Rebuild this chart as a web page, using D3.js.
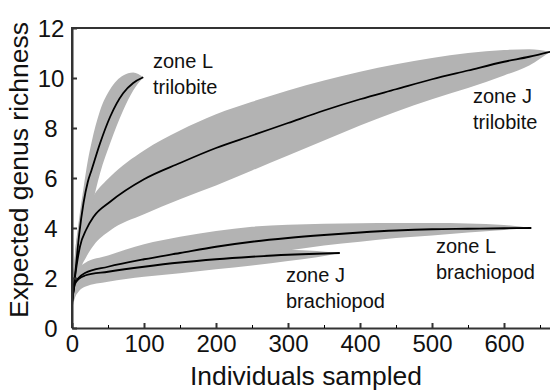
<!DOCTYPE html>
<html>
<head>
<meta charset="utf-8">
<script src="https://cdn.jsdelivr.net/npm/d3@7"></script>
<style>
  body { margin: 0; background: #fff; }
  svg text { font-family: "Liberation Sans", Arial, sans-serif; fill: #111; }
</style>
</head>
<body>
<div id="chart"></div>
<script>
// rarefaction curves: x = individuals sampled, mean + band edges
const lTriloX     = [0, 4, 10, 16, 22, 27, 39, 53, 71, 85, 99];
const lTriloMean  = [1.0, 2.05, 3.75, 5.0, 5.85, 6.3, 7.39, 8.45, 9.39, 9.8, 10.03];
const lTriloUpper = [1.2, 2.9, 4.4, 5.6, 6.7, 7.4, 8.7, 9.55, 10.1, 10.22, 10.03];
const lTriloLower = [0.8, 1.4, 2.6, 3.4, 4.2, 4.8, 6.19, 7.39, 8.7, 9.5, 10.03];

const jTriloX     = [0, 4, 11, 20, 30, 53, 100, 150, 200, 250, 300, 350, 400, 450, 500, 550, 600, 635, 664];
const jTriloMean  = [1.0, 2.0, 3.25, 3.95, 4.45, 5.05, 5.95, 6.6, 7.2, 7.7, 8.2, 8.7, 9.15, 9.55, 9.95, 10.3, 10.65, 10.85, 11.05];
const jTriloUpper = [1.2, 2.9, 4.1, 4.8, 5.3, 6.05, 7.1, 7.9, 8.55, 9.05, 9.5, 9.9, 10.25, 10.55, 10.8, 11.0, 11.12, 11.15, 11.05];
const jTriloLower = [0.8, 1.5, 2.3, 2.85, 3.3, 3.9, 4.55, 5.15, 5.7, 6.3, 6.9, 7.5, 8.1, 8.65, 9.15, 9.6, 10.1, 10.5, 11.05];

const lBrachX     = [0, 4, 9, 18, 50, 100, 150, 200, 250, 300, 350, 400, 450, 500, 550, 600, 638];
const lBrachMean  = [1.0, 1.8, 2.0, 2.2, 2.45, 2.75, 3.0, 3.25, 3.45, 3.6, 3.72, 3.82, 3.9, 3.95, 3.97, 3.99, 4.0];
const lBrachUpper = [1.2, 2.2, 2.4, 2.6, 2.9, 3.35, 3.65, 3.88, 4.05, 4.13, 4.17, 4.19, 4.2, 4.2, 4.18, 4.12, 4.0];
const lBrachLower = [0.7, 1.3, 1.55, 1.75, 2.0, 2.2, 2.4, 2.65, 2.9, 3.1, 3.3, 3.45, 3.6, 3.7, 3.82, 3.92, 4.0];

const jBrachX     = [0, 4, 9, 18, 50, 100, 150, 200, 250, 300, 340, 372];
const jBrachMean  = [1.0, 1.75, 1.95, 2.1, 2.25, 2.45, 2.62, 2.75, 2.85, 2.93, 2.97, 3.0];
const jBrachUpper = [1.2, 2.1, 2.3, 2.45, 2.6, 2.85, 3.0, 3.1, 3.15, 3.13, 3.08, 3.0];
const jBrachLower = [0.7, 1.2, 1.45, 1.65, 1.85, 2.05, 2.19, 2.35, 2.5, 2.68, 2.83, 3.0];

const xTicks = [0, 100, 200, 300, 400, 500, 600];
const xMinor = [50, 150, 250, 350, 450, 550, 650];
const yTicks = [0, 2, 4, 6, 8, 10, 12];

const series = [
  {x: jTriloX, mean: jTriloMean, upper: jTriloUpper, lower: jTriloLower, label: ['zone J', 'trilobite'], at: [473, 103]},
  {x: lTriloX, mean: lTriloMean, upper: lTriloUpper, lower: lTriloLower, label: ['zone L', 'trilobite'], at: [153, 68]},
  {x: lBrachX, mean: lBrachMean, upper: lBrachUpper, lower: lBrachLower, label: ['zone L', 'brachiopod'], at: [436, 253]},
  {x: jBrachX, mean: jBrachMean, upper: jBrachUpper, lower: jBrachLower, label: ['zone J', 'brachiopod'], at: [286, 282]}
];

const W = 550, H = 391;
const margin = {top: 28, left: 72, bottom: 63};

const svg = d3.select('#chart').append('svg')
  .attr('width', W).attr('height', H);

const x = d3.scaleLinear().domain([0, 670]).range([margin.left, margin.left + 670 * 0.72]);
const y = d3.scaleLinear().domain([0, 12]).range([H - margin.bottom, margin.top]);

const area = d3.area()
  .x(d => x(d[0])).y0(d => y(d[2])).y1(d => y(d[1]))
  .curve(d3.curveMonotoneX);
const line = d3.line()
  .x(d => x(d[0])).y(d => y(d[1]))
  .curve(d3.curveMonotoneX);

// bands first so every line sits on top
series.forEach(s => {
  svg.append('path')
    .datum(s.x.map((v, i) => [v, s.upper[i], s.lower[i]]))
    .attr('d', area)
    .attr('fill', '#b3b3b3');
});
series.forEach(s => {
  svg.append('path')
    .datum(s.x.map((v, i) => [v, s.mean[i]]))
    .attr('d', line)
    .attr('fill', 'none')
    .attr('stroke', '#000')
    .attr('stroke-width', 1.8);
});

// frame (top line + axes)
svg.append('path')
  .attr('d', `M${x(0)},${y(0)}V${y(12)}H${x(670)}`)
  .attr('fill', 'none').attr('stroke', '#333').attr('stroke-width', 2);

const xAxis = svg.append('g')
  .attr('transform', `translate(0,${y(0)})`)
  .call(d3.axisBottom(x).tickValues(xTicks).tickSizeInner(-5).tickSizeOuter(0).tickPadding(7));
svg.append('g')
  .attr('transform', `translate(0,${y(0)})`)
  .call(d3.axisBottom(x).tickValues(xMinor).tickSizeInner(-3).tickSizeOuter(0).tickFormat(''))
  .select('.domain').remove();

const yAxis = svg.append('g')
  .attr('transform', `translate(${x(0)},0)`)
  .call(d3.axisLeft(y).tickValues(yTicks).tickSizeInner(-5).tickSizeOuter(0));

[xAxis, yAxis].forEach(g => {
  g.select('.domain').attr('stroke', '#333').attr('stroke-width', 2);
  g.selectAll('.tick line').attr('stroke', '#333').attr('stroke-width', 2);
  g.selectAll('.tick text').attr('font-size', 24).attr('fill', '#111')
    .style('font-family', '"Liberation Sans", Arial, sans-serif');
});
yAxis.selectAll('.tick text')
  .attr('text-anchor', 'middle').attr('x', -21).attr('dy', '0.36em');

// axis titles
svg.append('text')
  .attr('x', 306).attr('y', 385)
  .attr('text-anchor', 'middle')
  .attr('font-size', 25)
  .attr('textLength', 232).attr('lengthAdjust', 'spacingAndGlyphs')
  .text('Individuals sampled');
svg.append('text')
  .attr('transform', 'translate(28,170) rotate(-90)')
  .attr('text-anchor', 'middle')
  .attr('font-size', 25)
  .attr('textLength', 296).attr('lengthAdjust', 'spacingAndGlyphs')
  .text('Expected genus richness');

// curve labels
series.forEach(s => {
  const t = svg.append('text')
    .attr('x', s.at[0]).attr('y', s.at[1])
    .attr('font-size', 20);
  s.label.forEach((l, i) => {
    t.append('tspan').attr('x', s.at[0]).attr('dy', i === 0 ? 0 : 26).text(l);
  });
});
</script>
</body>
</html>
